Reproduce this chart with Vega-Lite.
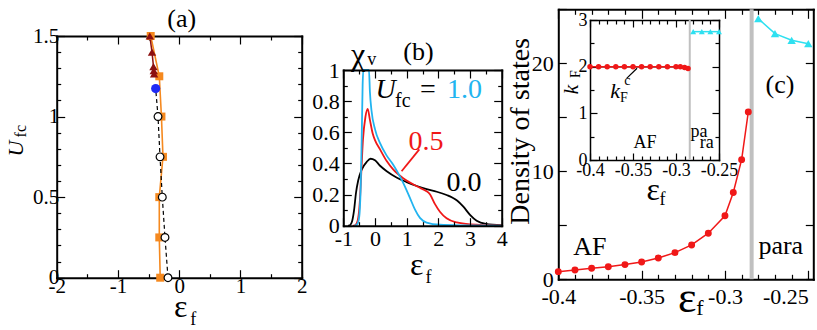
{
"$schema": "https://vega.github.io/schema/vega-lite/v6.json",
"width": 817, "height": 330, "padding": 0, "autosize": {"type": "none"},
"background": "white",
"config": {"view": {"stroke": null}, "font": "Liberation Serif, Times New Roman, serif",
  "text": {"font": "Liberation Serif, Times New Roman, serif"},
  "axis": {"domainColor": "black", "domainWidth": 2, "domainCap": "square", "tickColor": "black", "tickWidth": 1.2, "labelColor": "black", "labelFont": "Liberation Serif, Times New Roman, serif", "grid": false, "labelFlush": false, "labelOverlap": false}},
"datasets": {
  "a_sq": [{"x": -0.31, "y": 0}, {"x": -0.325, "y": 0.25}, {"x": -0.325, "y": 0.5}, {"x": -0.265, "y": 0.75}, {"x": -0.29, "y": 1.0}, {"x": -0.325, "y": 1.25}, {"x": -0.465, "y": 1.5}],
  "a_dash": [{"x": -0.183, "y": 0}, {"x": -0.232, "y": 0.25}, {"x": -0.276, "y": 0.5}, {"x": -0.313, "y": 0.75}, {"x": -0.346, "y": 1.0}, {"x": -0.384, "y": 1.174}],
  "a_circ": [{"x": -0.183, "y": 0}, {"x": -0.232, "y": 0.25}, {"x": -0.276, "y": 0.5}, {"x": -0.313, "y": 0.75}, {"x": -0.346, "y": 1.0}],
  "a_blue": [{"x": -0.384, "y": 1.174}],
  "a_tri": [{"x": -0.41, "y": 1.265}, {"x": -0.415, "y": 1.285}, {"x": -0.42, "y": 1.31}, {"x": -0.444, "y": 1.4}, {"x": -0.48, "y": 1.5}],
  "b_curves": [
    {"s": "0.0", "x": -0.85, "y": 0}, {"s": "0.0", "x": -0.79, "y": 0.003}, {"s": "0.0", "x": -0.72, "y": 0.03}, {"s": "0.0", "x": -0.66, "y": 0.1}, {"s": "0.0", "x": -0.6, "y": 0.21}, {"s": "0.0", "x": -0.53, "y": 0.29}, {"s": "0.0", "x": -0.42, "y": 0.36}, {"s": "0.0", "x": -0.26, "y": 0.41}, {"s": "0.0", "x": -0.14, "y": 0.43}, {"s": "0.0", "x": 0, "y": 0.42}, {"s": "0.0", "x": 0.16, "y": 0.385}, {"s": "0.0", "x": 0.37, "y": 0.35}, {"s": "0.0", "x": 0.68, "y": 0.31}, {"s": "0.0", "x": 1.0, "y": 0.28}, {"s": "0.0", "x": 1.32, "y": 0.255}, {"s": "0.0", "x": 1.63, "y": 0.235}, {"s": "0.0", "x": 1.95, "y": 0.218}, {"s": "0.0", "x": 2.26, "y": 0.197}, {"s": "0.0", "x": 2.45, "y": 0.18}, {"s": "0.0", "x": 2.6, "y": 0.16}, {"s": "0.0", "x": 2.79, "y": 0.122}, {"s": "0.0", "x": 3.0, "y": 0.07}, {"s": "0.0", "x": 3.21, "y": 0.032}, {"s": "0.0", "x": 3.5, "y": 0.012}, {"s": "0.0", "x": 4.0, "y": 0.004},
    {"s": "0.5", "x": -0.7, "y": 0}, {"s": "0.5", "x": -0.63, "y": 0.002}, {"s": "0.5", "x": -0.55, "y": 0.03}, {"s": "0.5", "x": -0.48, "y": 0.15}, {"s": "0.5", "x": -0.43, "y": 0.35}, {"s": "0.5", "x": -0.38, "y": 0.55}, {"s": "0.5", "x": -0.3, "y": 0.7}, {"s": "0.5", "x": -0.23, "y": 0.75}, {"s": "0.5", "x": -0.16, "y": 0.68}, {"s": "0.5", "x": -0.07, "y": 0.59}, {"s": "0.5", "x": 0, "y": 0.55}, {"s": "0.5", "x": 0.16, "y": 0.49}, {"s": "0.5", "x": 0.37, "y": 0.415}, {"s": "0.5", "x": 0.58, "y": 0.36}, {"s": "0.5", "x": 0.89, "y": 0.305}, {"s": "0.5", "x": 1.21, "y": 0.265}, {"s": "0.5", "x": 1.45, "y": 0.24}, {"s": "0.5", "x": 1.6, "y": 0.225}, {"s": "0.5", "x": 1.74, "y": 0.2}, {"s": "0.5", "x": 1.89, "y": 0.14}, {"s": "0.5", "x": 2.05, "y": 0.09}, {"s": "0.5", "x": 2.26, "y": 0.048}, {"s": "0.5", "x": 2.58, "y": 0.021}, {"s": "0.5", "x": 3.0, "y": 0.009}, {"s": "0.5", "x": 4.0, "y": 0.002},
    {"s": "1.0", "x": -0.65, "y": 0}, {"s": "1.0", "x": -0.58, "y": 0.005}, {"s": "1.0", "x": -0.52, "y": 0.03}, {"s": "1.0", "x": -0.48, "y": 0.1}, {"s": "1.0", "x": -0.45, "y": 0.25}, {"s": "1.0", "x": -0.42, "y": 0.55}, {"s": "1.0", "x": -0.39, "y": 0.9}, {"s": "1.0", "x": -0.37, "y": 1.1}, {"s": "1.0", "x": -0.3, "y": 1.6}, {"s": "1.0", "x": -0.22, "y": 1.1}, {"s": "1.0", "x": -0.19, "y": 1.0}, {"s": "1.0", "x": -0.16, "y": 0.86}, {"s": "1.0", "x": -0.11, "y": 0.74}, {"s": "1.0", "x": 0, "y": 0.62}, {"s": "1.0", "x": 0.16, "y": 0.53}, {"s": "1.0", "x": 0.37, "y": 0.45}, {"s": "1.0", "x": 0.58, "y": 0.39}, {"s": "1.0", "x": 0.79, "y": 0.315}, {"s": "1.0", "x": 0.95, "y": 0.25}, {"s": "1.0", "x": 1.1, "y": 0.18}, {"s": "1.0", "x": 1.26, "y": 0.105}, {"s": "1.0", "x": 1.42, "y": 0.05}, {"s": "1.0", "x": 1.63, "y": 0.02}, {"s": "1.0", "x": 2.05, "y": 0.006}, {"s": "1.0", "x": 2.8, "y": 0.002}, {"s": "1.0", "x": 4.0, "y": 0}
  ],
  "c_red": [{"x": -0.4, "y": 0.71}, {"x": -0.39, "y": 0.86}, {"x": -0.38, "y": 1.02}, {"x": -0.37, "y": 1.17}, {"x": -0.36, "y": 1.36}, {"x": -0.35, "y": 1.6}, {"x": -0.34, "y": 1.98}, {"x": -0.33, "y": 2.47}, {"x": -0.32, "y": 3.18}, {"x": -0.31, "y": 4.27}, {"x": -0.3, "y": 5.88}, {"x": -0.295, "y": 8.04}, {"x": -0.29, "y": 11.08}, {"x": -0.286, "y": 15.5}],
  "c_cyan": [{"x": -0.28, "y": 24.14}, {"x": -0.27, "y": 22.75}, {"x": -0.26, "y": 22.13}, {"x": -0.25, "y": 21.82}],
  "i_red": [{"x": -0.4, "y": 2.0}, {"x": -0.39, "y": 2.0}, {"x": -0.38, "y": 2.0}, {"x": -0.37, "y": 2.0}, {"x": -0.36, "y": 2.0}, {"x": -0.35, "y": 2.0}, {"x": -0.34, "y": 2.0}, {"x": -0.33, "y": 2.0}, {"x": -0.32, "y": 2.0}, {"x": -0.31, "y": 2.0}, {"x": -0.3, "y": 2.0}, {"x": -0.295, "y": 2.0}, {"x": -0.29, "y": 1.98}, {"x": -0.286, "y": 1.96}],
  "i_cyan": [{"x": -0.28, "y": 2.75}, {"x": -0.27, "y": 2.75}, {"x": -0.26, "y": 2.75}, {"x": -0.25, "y": 2.75}]
},
"layer": [
 {
  "layer": [
   {"data": {"name": "a_sq"}, "mark": {"type": "line", "color": "#f5891f", "strokeWidth": 1.6},
    "encoding": {
     "x": {"field": "x", "type": "quantitative", "scale": {"domain": [-2, 2], "range": [56.7, 301.7], "nice": false, "zero": false},
       "axis": {"orient": "bottom", "offset": -52.3, "title": null, "values": [-2, -1.5, -1, -0.5, 0, 0.5, 1, 1.5, 2], "labelFontSize": 21, "labelPadding": 6,
         "labelExpr": "abs(datum.value - round(datum.value)) < 1e-6 ? (datum.value < 0 ? '-' + abs(datum.value) : '' + datum.value) : ''",
         "tickSize": {"condition": {"test": "abs(datum.value - round(datum.value)) < 1e-6", "value": -8}, "value": -4}}},
     "y": {"field": "y", "type": "quantitative", "scale": {"domain": [0, 1.5], "range": [277.7, 36], "nice": false, "zero": false},
       "axis": {"orient": "left", "offset": -56.7, "title": null, "values": [0, 0.1, 0.2, 0.3, 0.4, 0.5, 0.6, 0.7, 0.8, 0.9, 1, 1.1, 1.2, 1.3, 1.4, 1.5], "labelFontSize": 21, "labelPadding": 6,
         "labelExpr": "abs(datum.value*2 - round(datum.value*2)) < 1e-6 ? '' + datum.value : ''",
         "tickSize": {"condition": {"test": "abs(datum.value*2 - round(datum.value*2)) < 1e-6", "value": -8}, "value": -4}}},
     "order": {"field": "y", "type": "quantitative"}}},
   {"data": {"name": "a_dash"}, "mark": {"type": "line", "color": "black", "strokeWidth": 1.2, "strokeDash": [4, 3]},
    "encoding": {
     "x": {"field": "x", "type": "quantitative", "scale": {"domain": [-2, 2], "range": [56.7, 301.7], "nice": false, "zero": false},
       "axis": {"orient": "top", "offset": -36, "title": null, "labels": false, "values": [-2, -1.5, -1, -0.5, 0, 0.5, 1, 1.5, 2],
         "tickSize": {"condition": {"test": "abs(datum.value - round(datum.value)) < 1e-6", "value": -8}, "value": -4}}},
     "y": {"field": "y", "type": "quantitative", "scale": {"domain": [0, 1.5], "range": [277.7, 36], "nice": false, "zero": false},
       "axis": {"orient": "right", "offset": -515.3, "title": null, "labels": false, "values": [0, 0.1, 0.2, 0.3, 0.4, 0.5, 0.6, 0.7, 0.8, 0.9, 1, 1.1, 1.2, 1.3, 1.4, 1.5],
         "tickSize": {"condition": {"test": "abs(datum.value*2 - round(datum.value*2)) < 1e-6", "value": -8}, "value": -4}}},
     "order": {"field": "y", "type": "quantitative"}}},
   {"data": {"name": "a_tri"}, "mark": {"type": "line", "color": "#8c1010", "strokeWidth": 1.5},
    "encoding": {
     "x": {"field": "x", "type": "quantitative", "scale": {"domain": [-2, 2], "range": [56.7, 301.7], "nice": false, "zero": false}, "axis": null},
     "y": {"field": "y", "type": "quantitative", "scale": {"domain": [0, 1.5], "range": [277.7, 36], "nice": false, "zero": false}, "axis": null},
     "order": {"field": "y", "type": "quantitative"}}},
   {"data": {"name": "a_sq"}, "mark": {"type": "square", "color": "#f5891f", "size": 64, "opacity": 1},
    "encoding": {
     "x": {"field": "x", "type": "quantitative", "scale": {"domain": [-2, 2], "range": [56.7, 301.7], "nice": false, "zero": false}, "axis": null},
     "y": {"field": "y", "type": "quantitative", "scale": {"domain": [0, 1.5], "range": [277.7, 36], "nice": false, "zero": false}, "axis": null}}},
   {"data": {"name": "a_circ"}, "mark": {"type": "circle", "fill": "white", "stroke": "black", "strokeWidth": 1.2, "size": 60, "opacity": 1},
    "encoding": {
     "x": {"field": "x", "type": "quantitative", "scale": {"domain": [-2, 2], "range": [56.7, 301.7], "nice": false, "zero": false}, "axis": null},
     "y": {"field": "y", "type": "quantitative", "scale": {"domain": [0, 1.5], "range": [277.7, 36], "nice": false, "zero": false}, "axis": null}}},
   {"data": {"name": "a_tri"}, "mark": {"type": "point", "shape": "triangle-up", "filled": true, "color": "#8c1010", "size": 70, "opacity": 1},
    "encoding": {
     "x": {"field": "x", "type": "quantitative", "scale": {"domain": [-2, 2], "range": [56.7, 301.7], "nice": false, "zero": false}, "axis": null},
     "y": {"field": "y", "type": "quantitative", "scale": {"domain": [0, 1.5], "range": [277.7, 36], "nice": false, "zero": false}, "axis": null}}},
   {"data": {"name": "a_blue"}, "mark": {"type": "circle", "color": "#1f2af5", "size": 85, "opacity": 1},
    "encoding": {
     "x": {"field": "x", "type": "quantitative", "scale": {"domain": [-2, 2], "range": [56.7, 301.7], "nice": false, "zero": false}, "axis": null},
     "y": {"field": "y", "type": "quantitative", "scale": {"domain": [0, 1.5], "range": [277.7, 36], "nice": false, "zero": false}, "axis": null}}},
   {"data": {"values": [{"x": 0.04, "y": 1.556, "t": "(a)"}]}, "mark": {"type": "text", "fontSize": 26, "align": "center", "baseline": "alphabetic"},
    "encoding": {
     "x": {"field": "x", "type": "quantitative", "scale": {"domain": [-2, 2], "range": [56.7, 301.7], "nice": false, "zero": false}, "axis": null},
     "y": {"field": "y", "type": "quantitative", "scale": {"domain": [0, 1.5], "range": [277.7, 36], "nice": false, "zero": false}, "axis": null},
     "text": {"field": "t"}}},
   {"data": {"values": [{"x": 0.024, "y": -0.242, "t": "ε"}]}, "mark": {"type": "text", "fontSize": 32, "align": "center", "baseline": "alphabetic"},
    "encoding": {
     "x": {"field": "x", "type": "quantitative", "scale": {"domain": [-2, 2], "range": [56.7, 301.7], "nice": false, "zero": false}, "axis": null},
     "y": {"field": "y", "type": "quantitative", "scale": {"domain": [0, 1.5], "range": [277.7, 36], "nice": false, "zero": false}, "axis": null},
     "text": {"field": "t"}}},
   {"data": {"values": [{"x": 0.23, "y": -0.293, "t": "f"}]}, "mark": {"type": "text", "fontSize": 18, "align": "center", "baseline": "alphabetic"},
    "encoding": {
     "x": {"field": "x", "type": "quantitative", "scale": {"domain": [-2, 2], "range": [56.7, 301.7], "nice": false, "zero": false}, "axis": null},
     "y": {"field": "y", "type": "quantitative", "scale": {"domain": [0, 1.5], "range": [277.7, 36], "nice": false, "zero": false}, "axis": null},
     "text": {"field": "t"}}},
   {"data": {"values": [{"x": -2.555, "y": 0.802, "t": "U"}]}, "mark": {"type": "text", "fontSize": 22, "fontStyle": "italic", "angle": 270, "align": "center", "baseline": "alphabetic"},
    "encoding": {
     "x": {"field": "x", "type": "quantitative", "scale": {"domain": [-2, 2], "range": [56.7, 301.7], "nice": false, "zero": false}, "axis": null},
     "y": {"field": "y", "type": "quantitative", "scale": {"domain": [0, 1.5], "range": [277.7, 36], "nice": false, "zero": false}, "axis": null},
     "text": {"field": "t"}}},
   {"data": {"values": [{"x": -2.501, "y": 0.909, "t": "fc"}]}, "mark": {"type": "text", "fontSize": 16, "angle": 270, "align": "center", "baseline": "alphabetic"},
    "encoding": {
     "x": {"field": "x", "type": "quantitative", "scale": {"domain": [-2, 2], "range": [56.7, 301.7], "nice": false, "zero": false}, "axis": null},
     "y": {"field": "y", "type": "quantitative", "scale": {"domain": [0, 1.5], "range": [277.7, 36], "nice": false, "zero": false}, "axis": null},
     "text": {"field": "t"}}}
  ],
  "resolve": {"axis": {"x": "independent", "y": "independent"}}
 },
 {
  "layer": [
   {"data": {"name": "b_curves"}, "mark": {"type": "line", "strokeWidth": 1.8, "interpolate": "monotone"},
    "encoding": {
     "x": {"field": "x", "type": "quantitative", "scale": {"domain": [-1, 4], "range": [343.3, 501.7], "nice": false, "zero": false},
       "axis": {"orient": "bottom", "offset": -104.3, "title": null, "zindex": 1, "values": [-1, -0.5, 0, 0.5, 1, 1.5, 2, 2.5, 3, 3.5, 4], "labelFontSize": 22, "labelPadding": 11,
         "labelExpr": "abs(datum.value - round(datum.value)) < 1e-6 ? (datum.value < 0 ? '-' + abs(datum.value) : '' + datum.value) : ''",
         "tickSize": {"condition": {"test": "abs(datum.value - round(datum.value)) < 1e-6", "value": -8}, "value": -4}}},
     "y": {"field": "y", "type": "quantitative", "scale": {"domain": [0, 1], "range": [225.7, 70], "nice": false, "zero": false, "clamp": true},
       "axis": {"orient": "left", "offset": -343.3, "title": null, "zindex": 1, "values": [0, 0.1, 0.2, 0.3, 0.4, 0.5, 0.6, 0.7, 0.8, 0.9, 1], "labelFontSize": 22, "labelPadding": 12,
         "labelExpr": "abs(datum.value*5 - round(datum.value*5)) < 1e-6 ? '' + datum.value : ''",
         "tickSize": {"condition": {"test": "abs(datum.value*5 - round(datum.value*5)) < 1e-6", "value": -8}, "value": -4}}},
     "color": {"field": "s", "type": "nominal", "scale": {"domain": ["0.0", "0.5", "1.0"], "range": ["black", "#f01818", "#22b4f0"]}, "legend": null}}},
   {"data": {"values": [{"x": 0.84, "y": 0.35, "x2": 1.4, "y2": 0.49}]}, "mark": {"type": "rule", "color": "#f01818", "strokeWidth": 1.8},
    "encoding": {
     "x": {"field": "x", "type": "quantitative", "scale": {"domain": [-1, 4], "range": [343.3, 501.7], "nice": false, "zero": false},
       "axis": {"orient": "top", "offset": -70, "title": null, "labels": false, "zindex": 1, "values": [-1, -0.5, 0, 0.5, 1, 1.5, 2, 2.5, 3, 3.5, 4],
         "tickSize": {"condition": {"test": "abs(datum.value - round(datum.value)) < 1e-6", "value": -8}, "value": -4}}},
     "y": {"field": "y", "type": "quantitative", "scale": {"domain": [0, 1], "range": [225.7, 70], "nice": false, "zero": false, "clamp": true},
       "axis": {"orient": "right", "offset": -315.3, "title": null, "labels": false, "zindex": 1, "values": [0, 0.1, 0.2, 0.3, 0.4, 0.5, 0.6, 0.7, 0.8, 0.9, 1],
         "tickSize": {"condition": {"test": "abs(datum.value*5 - round(datum.value*5)) < 1e-6", "value": -8}, "value": -4}}},
     "x2": {"field": "x2"}, "y2": {"field": "y2"}}}
  ],
  "resolve": {"axis": {"x": "independent", "y": "independent"}}
 },
 {
  "layer": [
   {"data": {"values": [{"x": -0.536, "y": 1.034, "t": "χ"}]}, "mark": {"type": "text", "fontSize": 32, "align": "center", "baseline": "alphabetic"},
    "encoding": {
     "x": {"field": "x", "type": "quantitative", "scale": {"domain": [-1, 4], "range": [343.3, 501.7], "nice": false, "zero": false}, "axis": null},
     "y": {"field": "y", "type": "quantitative", "scale": {"domain": [0, 1], "range": [225.7, 70], "nice": false, "zero": false}, "axis": null},
     "text": {"field": "t"}}},
   {"data": {"values": [{"x": 1.37, "y": 1.064, "t": "(b)"}]}, "mark": {"type": "text", "fontSize": 26, "align": "center", "baseline": "alphabetic"},
    "encoding": {
     "x": {"field": "x", "type": "quantitative", "scale": {"domain": [-1, 4], "range": [343.3, 501.7], "nice": false, "zero": false}, "axis": null},
     "y": {"field": "y", "type": "quantitative", "scale": {"domain": [0, 1], "range": [225.7, 70], "nice": false, "zero": false}, "axis": null},
     "text": {"field": "t"}}},
   {"data": {"values": [{"x": -0.1, "y": 1.032, "t": "v"}, {"x": 1.69, "y": -0.37, "t": "f"}]}, "mark": {"type": "text", "fontSize": 18, "align": "center", "baseline": "alphabetic"},
    "encoding": {
     "x": {"field": "x", "type": "quantitative", "scale": {"domain": [-1, 4], "range": [343.3, 501.7], "nice": false, "zero": false}, "axis": null},
     "y": {"field": "y", "type": "quantitative", "scale": {"domain": [0, 1], "range": [225.7, 70], "nice": false, "zero": false}, "axis": null},
     "text": {"field": "t"}}},
   {"data": {"values": [{"x": 1.317, "y": -0.317, "t": "ε"}]}, "mark": {"type": "text", "fontSize": 32, "align": "center", "baseline": "alphabetic"},
    "encoding": {
     "x": {"field": "x", "type": "quantitative", "scale": {"domain": [-1, 4], "range": [343.3, 501.7], "nice": false, "zero": false}, "axis": null},
     "y": {"field": "y", "type": "quantitative", "scale": {"domain": [0, 1], "range": [225.7, 70], "nice": false, "zero": false}, "axis": null},
     "text": {"field": "t"}}},
   {"data": {"values": [{"x": 0.333, "y": 0.82, "t": "U"}]}, "mark": {"type": "text", "fontSize": 28, "fontStyle": "italic", "align": "center", "baseline": "alphabetic"},
    "encoding": {
     "x": {"field": "x", "type": "quantitative", "scale": {"domain": [-1, 4], "range": [343.3, 501.7], "nice": false, "zero": false}, "axis": null},
     "y": {"field": "y", "type": "quantitative", "scale": {"domain": [0, 1], "range": [225.7, 70], "nice": false, "zero": false}, "axis": null},
     "text": {"field": "t"}}},
   {"data": {"values": [{"x": 0.633, "y": 0.762, "t": "fc"}]}, "mark": {"type": "text", "fontSize": 20, "align": "left", "baseline": "alphabetic"},
    "encoding": {
     "x": {"field": "x", "type": "quantitative", "scale": {"domain": [-1, 4], "range": [343.3, 501.7], "nice": false, "zero": false}, "axis": null},
     "y": {"field": "y", "type": "quantitative", "scale": {"domain": [0, 1], "range": [225.7, 70], "nice": false, "zero": false}, "axis": null},
     "text": {"field": "t"}}},
   {"data": {"values": [{"x": 1.674, "y": 0.82, "t": "="}, {"x": 2.81, "y": 0.223, "t": "0.0"}]}, "mark": {"type": "text", "fontSize": 28, "align": "center", "baseline": "alphabetic"},
    "encoding": {
     "x": {"field": "x", "type": "quantitative", "scale": {"domain": [-1, 4], "range": [343.3, 501.7], "nice": false, "zero": false}, "axis": null},
     "y": {"field": "y", "type": "quantitative", "scale": {"domain": [0, 1], "range": [225.7, 70], "nice": false, "zero": false}, "axis": null},
     "text": {"field": "t"}}},
   {"data": {"values": [{"x": 2.274, "y": 0.82, "t": "1.0"}]}, "mark": {"type": "text", "fontSize": 28, "align": "left", "baseline": "alphabetic", "color": "#22b4f0"},
    "encoding": {
     "x": {"field": "x", "type": "quantitative", "scale": {"domain": [-1, 4], "range": [343.3, 501.7], "nice": false, "zero": false}, "axis": null},
     "y": {"field": "y", "type": "quantitative", "scale": {"domain": [0, 1], "range": [225.7, 70], "nice": false, "zero": false}, "axis": null},
     "text": {"field": "t"}}},
   {"data": {"values": [{"x": 1.61, "y": 0.486, "t": "0.5"}]}, "mark": {"type": "text", "fontSize": 28, "align": "center", "baseline": "alphabetic", "color": "#f01818"},
    "encoding": {
     "x": {"field": "x", "type": "quantitative", "scale": {"domain": [-1, 4], "range": [343.3, 501.7], "nice": false, "zero": false}, "axis": null},
     "y": {"field": "y", "type": "quantitative", "scale": {"domain": [0, 1], "range": [225.7, 70], "nice": false, "zero": false}, "axis": null},
     "text": {"field": "t"}}}
  ]
 },
 {
  "layer": [
   {"data": {"values": [{"x": -0.284, "y": 0, "y2": 25}]}, "mark": {"type": "rule", "color": "#c0c0c0", "strokeWidth": 4},
    "encoding": {
     "x": {"field": "x", "type": "quantitative", "scale": {"domain": [-0.4, -0.247], "range": [558.3, 813.3], "nice": false, "zero": false},
       "axis": {"orient": "bottom", "offset": -50.7, "title": null, "values": [-0.4, -0.39, -0.38, -0.37, -0.36, -0.35, -0.34, -0.33, -0.32, -0.31, -0.3, -0.29, -0.28, -0.27, -0.26, -0.25], "labelFontSize": 22, "labelPadding": 16,
         "labelExpr": "abs(datum.value*20 - round(datum.value*20)) < 1e-6 ? '-' + abs(datum.value) : ''",
         "labelAlign": {"condition": {"test": "datum.value > -0.26", "value": "right"}, "value": "center"},
         "tickSize": {"condition": {"test": "abs(datum.value*20 - round(datum.value*20)) < 1e-6", "value": -9}, "value": -5}}},
     "y": {"field": "y", "type": "quantitative", "scale": {"domain": [0, 25], "range": [279.3, 9.3], "nice": false, "zero": false},
       "axis": {"orient": "left", "offset": -558.3, "title": null, "values": [0, 5, 10, 15, 20, 25], "labelFontSize": 22, "labelPadding": 13, "tickSize": -8,
         "labelExpr": "datum.value % 10 === 0 ? '' + datum.value : ''"}},
     "y2": {"field": "y2"}}},
   {"data": {"name": "c_red"}, "mark": {"type": "line", "color": "#f01818", "strokeWidth": 1.5},
    "encoding": {
     "x": {"field": "x", "type": "quantitative", "scale": {"domain": [-0.4, -0.247], "range": [558.3, 813.3], "nice": false, "zero": false},
       "axis": {"orient": "top", "offset": -9.3, "title": null, "labels": false, "values": [-0.4, -0.39, -0.38, -0.37, -0.36, -0.35, -0.34, -0.33, -0.32, -0.31, -0.3, -0.29, -0.28, -0.27, -0.26, -0.25],
         "tickSize": {"condition": {"test": "abs(datum.value*20 - round(datum.value*20)) < 1e-6", "value": -9}, "value": -5}}},
     "y": {"field": "y", "type": "quantitative", "scale": {"domain": [0, 25], "range": [279.3, 9.3], "nice": false, "zero": false},
       "axis": {"orient": "right", "offset": -3.7, "title": null, "labels": false, "values": [0, 5, 10, 15, 20, 25], "tickSize": -8}}}},
   {"data": {"name": "c_red"}, "mark": {"type": "circle", "color": "#f01818", "size": 48, "opacity": 1},
    "encoding": {
     "x": {"field": "x", "type": "quantitative", "scale": {"domain": [-0.4, -0.247], "range": [558.3, 813.3], "nice": false, "zero": false}, "axis": null},
     "y": {"field": "y", "type": "quantitative", "scale": {"domain": [0, 25], "range": [279.3, 9.3], "nice": false, "zero": false}, "axis": null}}},
   {"data": {"name": "c_cyan"}, "mark": {"type": "line", "color": "#2ee0f0", "strokeWidth": 1.5},
    "encoding": {
     "x": {"field": "x", "type": "quantitative", "scale": {"domain": [-0.4, -0.247], "range": [558.3, 813.3], "nice": false, "zero": false}, "axis": null},
     "y": {"field": "y", "type": "quantitative", "scale": {"domain": [0, 25], "range": [279.3, 9.3], "nice": false, "zero": false}, "axis": null}}},
   {"data": {"name": "c_cyan"}, "mark": {"type": "point", "shape": "triangle-up", "filled": true, "color": "#2ee0f0", "size": 70, "opacity": 1},
    "encoding": {
     "x": {"field": "x", "type": "quantitative", "scale": {"domain": [-0.4, -0.247], "range": [558.3, 813.3], "nice": false, "zero": false}, "axis": null},
     "y": {"field": "y", "type": "quantitative", "scale": {"domain": [0, 25], "range": [279.3, 9.3], "nice": false, "zero": false}, "axis": null}}},
   {"data": {"values": [{"x": -0.267, "y": 17.27, "t": "(c)"}, {"x": -0.381, "y": 2.26, "t": "AF"}, {"x": -0.2665, "y": 2.3, "t": "para"}]}, "mark": {"type": "text", "fontSize": 26, "align": "center", "baseline": "alphabetic"},
    "encoding": {
     "x": {"field": "x", "type": "quantitative", "scale": {"domain": [-0.4, -0.247], "range": [558.3, 813.3], "nice": false, "zero": false}, "axis": null},
     "y": {"field": "y", "type": "quantitative", "scale": {"domain": [0, 25], "range": [279.3, 9.3], "nice": false, "zero": false}, "axis": null},
     "text": {"field": "t"}}},
   {"data": {"values": [{"x": -0.4174, "y": 13.7, "t": "Density of states"}]}, "mark": {"type": "text", "fontSize": 28, "angle": 270, "align": "center", "baseline": "alphabetic"},
    "encoding": {
     "x": {"field": "x", "type": "quantitative", "scale": {"domain": [-0.4, -0.247], "range": [558.3, 813.3], "nice": false, "zero": false}, "axis": null},
     "y": {"field": "y", "type": "quantitative", "scale": {"domain": [0, 25], "range": [279.3, 9.3], "nice": false, "zero": false}, "axis": null},
     "text": {"field": "t"}}},
   {"data": {"values": [{"x": -0.3226, "y": -3.0, "t": "ε"}]}, "mark": {"type": "text", "fontSize": 44, "align": "center", "baseline": "alphabetic"},
    "encoding": {
     "x": {"field": "x", "type": "quantitative", "scale": {"domain": [-0.4, -0.247], "range": [558.3, 813.3], "nice": false, "zero": false}, "axis": null},
     "y": {"field": "y", "type": "quantitative", "scale": {"domain": [0, 25], "range": [279.3, 9.3], "nice": false, "zero": false}, "axis": null},
     "text": {"field": "t"}}},
   {"data": {"values": [{"x": -0.315, "y": -3.31, "t": "f"}]}, "mark": {"type": "text", "fontSize": 22, "align": "center", "baseline": "alphabetic"},
    "encoding": {
     "x": {"field": "x", "type": "quantitative", "scale": {"domain": [-0.4, -0.247], "range": [558.3, 813.3], "nice": false, "zero": false}, "axis": null},
     "y": {"field": "y", "type": "quantitative", "scale": {"domain": [0, 25], "range": [279.3, 9.3], "nice": false, "zero": false}, "axis": null},
     "text": {"field": "t"}}}
  ],
  "resolve": {"axis": {"x": "independent", "y": "independent"}}
 },
 {
  "layer": [
   {"data": {"values": [{"x": -0.284, "y": 0, "y2": 3}]}, "mark": {"type": "rule", "color": "#c0c0c0", "strokeWidth": 2},
    "encoding": {
     "x": {"field": "x", "type": "quantitative", "scale": {"domain": [-0.4, -0.25], "range": [590, 719], "nice": false, "zero": false},
       "axis": {"orient": "bottom", "offset": -170, "title": null, "values": [-0.4, -0.39, -0.38, -0.37, -0.36, -0.35, -0.34, -0.33, -0.32, -0.31, -0.3, -0.29, -0.28, -0.27, -0.26, -0.25], "labelFontSize": 18, "labelPadding": 8, "domainWidth": 1.5,
         "labelExpr": "abs(datum.value*20 - round(datum.value*20)) < 1e-6 ? '-' + abs(datum.value) : ''",
         "tickSize": {"condition": {"test": "abs(datum.value*20 - round(datum.value*20)) < 1e-6", "value": -7}, "value": -4}}},
     "y": {"field": "y", "type": "quantitative", "scale": {"domain": [0, 3], "range": [160, 20], "nice": false, "zero": false},
       "axis": {"orient": "left", "offset": -590, "title": null, "values": [0, 0.5, 1, 1.5, 2, 2.5, 3], "labelFontSize": 18, "labelPadding": 10, "domainWidth": 1.5,
         "labelExpr": "abs(datum.value - round(datum.value)) < 1e-6 ? '' + datum.value : ''",
         "tickSize": {"condition": {"test": "abs(datum.value - round(datum.value)) < 1e-6", "value": -7}, "value": -4}}},
     "y2": {"field": "y2"}}},
   {"data": {"values": [{"x": -0.4, "y": 2, "x2": -0.287}]}, "mark": {"type": "rule", "color": "black", "strokeWidth": 1.5},
    "encoding": {
     "x": {"field": "x", "type": "quantitative", "scale": {"domain": [-0.4, -0.25], "range": [590, 719], "nice": false, "zero": false},
       "axis": {"orient": "top", "offset": -20, "title": null, "labels": false, "domainWidth": 1.5, "values": [-0.4, -0.39, -0.38, -0.37, -0.36, -0.35, -0.34, -0.33, -0.32, -0.31, -0.3, -0.29, -0.28, -0.27, -0.26, -0.25],
         "tickSize": {"condition": {"test": "abs(datum.value*20 - round(datum.value*20)) < 1e-6", "value": -7}, "value": -4}}},
     "y": {"field": "y", "type": "quantitative", "scale": {"domain": [0, 3], "range": [160, 20], "nice": false, "zero": false},
       "axis": {"orient": "right", "offset": -98, "title": null, "labels": false, "domainWidth": 1.5, "values": [0, 0.5, 1, 1.5, 2, 2.5, 3],
         "tickSize": {"condition": {"test": "abs(datum.value - round(datum.value)) < 1e-6", "value": -7}, "value": -4}}},
     "x2": {"field": "x2"}}},
   {"data": {"values": [{"x": -0.3574, "y": 1.75, "x2": -0.3453, "y2": 1.965}]}, "mark": {"type": "rule", "color": "black", "strokeWidth": 1.2},
    "encoding": {
     "x": {"field": "x", "type": "quantitative", "scale": {"domain": [-0.4, -0.25], "range": [590, 719], "nice": false, "zero": false}, "axis": null},
     "y": {"field": "y", "type": "quantitative", "scale": {"domain": [0, 3], "range": [160, 20], "nice": false, "zero": false}, "axis": null},
     "x2": {"field": "x2"}, "y2": {"field": "y2"}}},
   {"data": {"name": "i_red"}, "mark": {"type": "line", "color": "#f01818", "strokeWidth": 1.5},
    "encoding": {
     "x": {"field": "x", "type": "quantitative", "scale": {"domain": [-0.4, -0.25], "range": [590, 719], "nice": false, "zero": false}, "axis": null},
     "y": {"field": "y", "type": "quantitative", "scale": {"domain": [0, 3], "range": [160, 20], "nice": false, "zero": false}, "axis": null}}},
   {"data": {"name": "i_red"}, "mark": {"type": "circle", "color": "#f01818", "size": 30, "opacity": 1},
    "encoding": {
     "x": {"field": "x", "type": "quantitative", "scale": {"domain": [-0.4, -0.25], "range": [590, 719], "nice": false, "zero": false}, "axis": null},
     "y": {"field": "y", "type": "quantitative", "scale": {"domain": [0, 3], "range": [160, 20], "nice": false, "zero": false}, "axis": null}}},
   {"data": {"name": "i_cyan"}, "mark": {"type": "line", "color": "#2ee0f0", "strokeWidth": 1.5},
    "encoding": {
     "x": {"field": "x", "type": "quantitative", "scale": {"domain": [-0.4, -0.25], "range": [590, 719], "nice": false, "zero": false}, "axis": null},
     "y": {"field": "y", "type": "quantitative", "scale": {"domain": [0, 3], "range": [160, 20], "nice": false, "zero": false}, "axis": null}}},
   {"data": {"name": "i_cyan"}, "mark": {"type": "point", "shape": "triangle-up", "filled": true, "color": "#2ee0f0", "size": 35, "opacity": 1},
    "encoding": {
     "x": {"field": "x", "type": "quantitative", "scale": {"domain": [-0.4, -0.25], "range": [590, 719], "nice": false, "zero": false}, "axis": null},
     "y": {"field": "y", "type": "quantitative", "scale": {"domain": [0, 3], "range": [160, 20], "nice": false, "zero": false}, "axis": null}}},
   {"data": {"values": [{"x": -0.336, "y": 0.25, "t": "AF"}, {"x": -0.2733, "y": 0.5, "t": "pa"}, {"x": -0.2643, "y": 0.25, "t": "ra"}]}, "mark": {"type": "text", "fontSize": 18, "align": "center", "baseline": "alphabetic"},
    "encoding": {
     "x": {"field": "x", "type": "quantitative", "scale": {"domain": [-0.4, -0.25], "range": [590, 719], "nice": false, "zero": false}, "axis": null},
     "y": {"field": "y", "type": "quantitative", "scale": {"domain": [0, 3], "range": [160, 20], "nice": false, "zero": false}, "axis": null},
     "text": {"field": "t"}}},
   {"data": {"values": [{"x": -0.3264, "y": -0.857, "t": "ε"}]}, "mark": {"type": "text", "fontSize": 32, "align": "center", "baseline": "alphabetic"},
    "encoding": {
     "x": {"field": "x", "type": "quantitative", "scale": {"domain": [-0.4, -0.25], "range": [590, 719], "nice": false, "zero": false}, "axis": null},
     "y": {"field": "y", "type": "quantitative", "scale": {"domain": [0, 3], "range": [160, 20], "nice": false, "zero": false}, "axis": null},
     "text": {"field": "t"}}},
   {"data": {"values": [{"x": -0.3157, "y": -0.964, "t": "f"}]}, "mark": {"type": "text", "fontSize": 18, "align": "center", "baseline": "alphabetic"},
    "encoding": {
     "x": {"field": "x", "type": "quantitative", "scale": {"domain": [-0.4, -0.25], "range": [590, 719], "nice": false, "zero": false}, "axis": null},
     "y": {"field": "y", "type": "quantitative", "scale": {"domain": [0, 3], "range": [160, 20], "nice": false, "zero": false}, "axis": null},
     "text": {"field": "t"}}},
   {"data": {"values": [{"x": -0.4136, "y": 1.51, "t": "k"}]}, "mark": {"type": "text", "fontSize": 22, "fontStyle": "italic", "angle": 270, "align": "center", "baseline": "alphabetic"},
    "encoding": {
     "x": {"field": "x", "type": "quantitative", "scale": {"domain": [-0.4, -0.25], "range": [590, 719], "nice": false, "zero": false}, "axis": null},
     "y": {"field": "y", "type": "quantitative", "scale": {"domain": [0, 3], "range": [160, 20], "nice": false, "zero": false}, "axis": null},
     "text": {"field": "t"}}},
   {"data": {"values": [{"x": -0.4116, "y": 1.84, "t": "F"}]}, "mark": {"type": "text", "fontSize": 14, "angle": 270, "align": "center", "baseline": "alphabetic"},
    "encoding": {
     "x": {"field": "x", "type": "quantitative", "scale": {"domain": [-0.4, -0.25], "range": [590, 719], "nice": false, "zero": false}, "axis": null},
     "y": {"field": "y", "type": "quantitative", "scale": {"domain": [0, 3], "range": [160, 20], "nice": false, "zero": false}, "axis": null},
     "text": {"field": "t"}}},
   {"data": {"values": [{"x": -0.3709, "y": 1.32, "t": "k"}]}, "mark": {"type": "text", "fontSize": 22, "fontStyle": "italic", "align": "center", "baseline": "alphabetic"},
    "encoding": {
     "x": {"field": "x", "type": "quantitative", "scale": {"domain": [-0.4, -0.25], "range": [590, 719], "nice": false, "zero": false}, "axis": null},
     "y": {"field": "y", "type": "quantitative", "scale": {"domain": [0, 3], "range": [160, 20], "nice": false, "zero": false}, "axis": null},
     "text": {"field": "t"}}},
   {"data": {"values": [{"x": -0.3605, "y": 1.25, "t": "F"}, {"x": -0.3566, "y": 1.607, "t": "c"}]}, "mark": {"type": "text", "fontSize": 14, "align": "center", "baseline": "alphabetic"},
    "encoding": {
     "x": {"field": "x", "type": "quantitative", "scale": {"domain": [-0.4, -0.25], "range": [590, 719], "nice": false, "zero": false}, "axis": null},
     "y": {"field": "y", "type": "quantitative", "scale": {"domain": [0, 3], "range": [160, 20], "nice": false, "zero": false}, "axis": null},
     "text": {"field": "t"}}}
  ],
  "resolve": {"axis": {"x": "independent", "y": "independent"}}
 }
],
"resolve": {"scale": {"x": "independent", "y": "independent", "color": "independent"}}
}
